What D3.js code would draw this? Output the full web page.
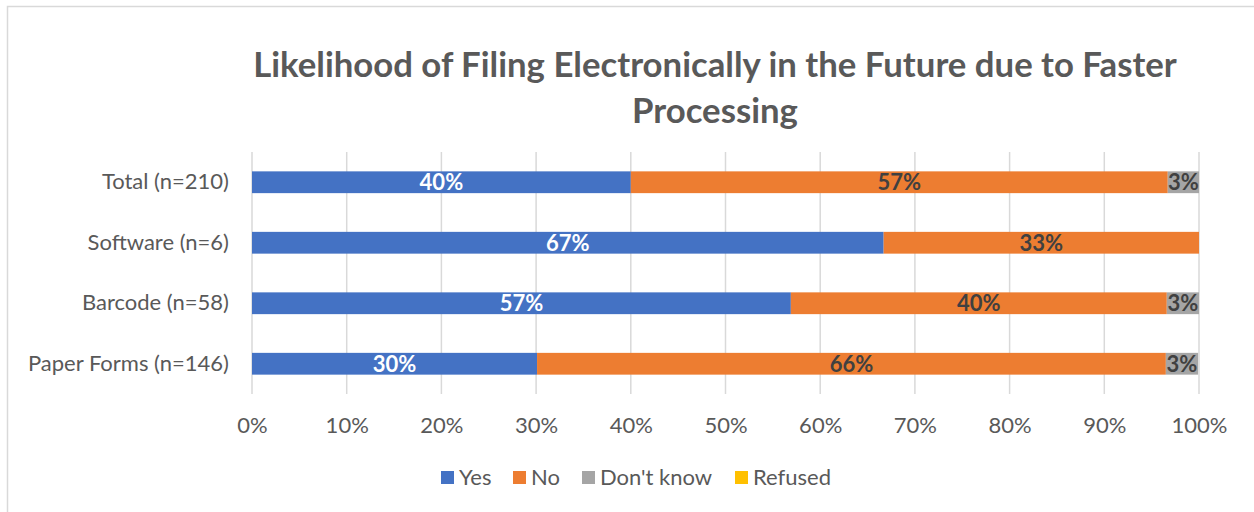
<!DOCTYPE html>
<html><head><meta charset="utf-8">
<script src="https://cdn.jsdelivr.net/npm/d3@7"></script>
<style>body{margin:0;background:#fff}svg{display:block;font-family:Lato,"Open Sans",sans-serif}</style>
</head><body>
<svg id="c" width="1254" height="512"></svg>
<script>
const categories = ["Total (n=210)", "Software (n=6)", "Barcode (n=58)", "Paper Forms (n=146)"];
const seriesNames = ["Yes", "No", "Don't know", "Refused"];
const yesVals = [40.0, 66.7, 56.9, 30.1];
const noVals = [56.7, 33.3, 39.7, 66.4];
const dkVals = [3.3, 0, 3.4, 3.4];
const refusedVals = [0, 0, 0, 0];
const tickLabels = ["0%","10%","20%","30%","40%","50%","60%","70%","80%","90%","100%"];
const colors = ["#4472c4", "#ed7d31", "#a5a5a5", "#ffc000"];
const labelColors = ["#ffffff", "#404040", "#404040", "#404040"];

const svg = d3.select("#c");
svg.append("rect").attr("x",7.5).attr("y",6.5).attr("width",1260).attr("height",520)
  .attr("fill","#fff").attr("stroke","#d9d9d9").attr("stroke-width",1.5);

// title
const titleLines = ["Likelihood of Filing Electronically in the Future due to Faster","Processing"];
const t1 = svg.append("text").attr("x",715).attr("y",77).attr("text-anchor","middle")
  .attr("font-weight","bold").attr("font-size",30).attr("fill","#595959").text(titleLines[0]);
const w = t1.node().getComputedTextLength();
const fs = 30*924/w;
t1.attr("font-size",fs);
svg.append("text").attr("x",715).attr("y",123).attr("text-anchor","middle")
  .attr("font-weight","bold").attr("font-size",fs).attr("fill","#595959").text(titleLines[1]);

const x = d3.scaleLinear().domain([0,100]).range([252,1199]);
const y = d3.scaleBand().domain(categories).range([152,394]).paddingInner(0.64).paddingOuter(0.32);

// gridlines
svg.append("g").selectAll("line").data(d3.range(0,101,10)).join("line")
  .attr("x1",d=>x(d)).attr("x2",d=>x(d)).attr("y1",152).attr("y2",394)
  .attr("stroke","#d9d9d9").attr("stroke-width",1.5);

// x axis labels
const xa = svg.append("g").attr("transform","translate(0,394)")
  .call(d3.axisBottom(x).tickValues(d3.range(0,101,10)).tickFormat((d,i)=>tickLabels[i]).tickSize(0).tickPadding(23));
xa.select(".domain").remove();
xa.selectAll("text").attr("font-size",22).attr("fill","#595959").attr("font-family","Lato,'Open Sans',sans-serif");

// y axis labels
const ya = svg.append("g").attr("transform","translate(252,0)")
  .call(d3.axisLeft(y).tickSize(0).tickPadding(23));
ya.select(".domain").remove();
ya.selectAll("text").attr("font-size",22).attr("fill","#595959").attr("font-family","Lato,'Open Sans',sans-serif");

// stacked data
const rows = categories.map((c,i)=>({cat:c, "Yes":yesVals[i], "No":noVals[i], "Don't know":dkVals[i], "Refused":refusedVals[i]}));
const stack = d3.stack().keys(seriesNames)(rows);

stack.forEach((layer,si)=>{
  const g = svg.append("g");
  g.selectAll("rect").data(layer.filter(d=>d[1]-d[0]>0)).join("rect")
    .attr("x",d=>x(d[0])).attr("width",d=>x(d[1])-x(d[0]))
    .attr("y",d=>y(d.data.cat)).attr("height",y.bandwidth())
    .attr("fill",colors[si]);
  g.selectAll("text").data(layer.filter(d=>d[1]-d[0]>0.5)).join("text")
    .attr("x",d=>(x(d[0])+x(d[1]))/2).attr("y",d=>y(d.data.cat)+y.bandwidth()/2)
    .attr("dy","0.36em").attr("text-anchor","middle").attr("font-weight","bold")
    .attr("font-size",22).attr("fill",labelColors[si])
    .text(d=>Math.round(d[1]-d[0])+"%");
});

// legend
const legX = [441, 513, 582, 735];
const lg = svg.append("g");
seriesNames.forEach((s,i)=>{
  lg.append("rect").attr("x",legX[i]).attr("y",471).attr("width",13).attr("height",13).attr("fill",colors[i]);
  lg.append("text").attr("x",legX[i]+18).attr("y",485).attr("font-size",22).attr("fill","#595959").text(s);
});
</script>
</body></html>
